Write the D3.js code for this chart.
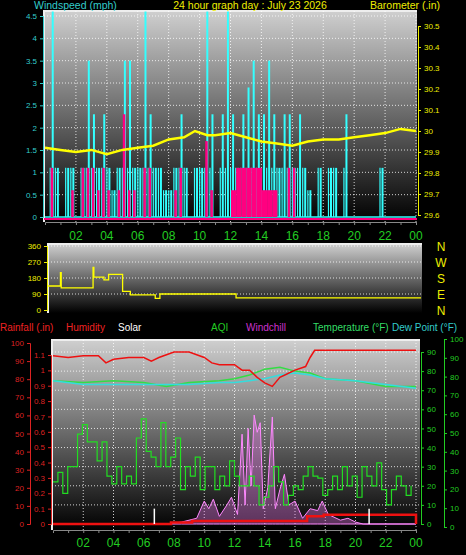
<!DOCTYPE html>
<html><head><meta charset="utf-8">
<script src="https://cdn.jsdelivr.net/npm/d3@7"></script>
<style>body{margin:0;background:#000}svg{display:block;font-family:"Liberation Sans",Arial,sans-serif}</style>
</head><body><svg id="c" width="466" height="555"></svg>
<script>
// wind, 20 minute steps (mph)
var gust = [0,4.6,1.1,0,1.1,1.1,0,1.1,3.5,2.3,1.1,2.3,1.1,0.6,1.1,3.5,3.5,1.1,1.1,4.6,2.3,1.1,1.1,0.6,0.6,1.1,2.3,1.1,0,1.1,1.1,4.6,2.3,0,2.3,4.6,2.3,1.1,2.3,2.9,3.5,2.3,2.3,3.5,2.3,1.1,2.3,2.3,1.1,2.3,1.1,0.6,0,1.1,0,1.1,1.1,0,2.3,0,0,0,0,0,0,1.1,0,0,0,0,0,0];
var avgWind = [0,1.1,0,0,0,0.6,0,1.1,1.1,1.1,0.6,1.1,0.6,0,0.6,2.3,0.6,0.6,0,1.1,1.1,0,0,0,0,0.6,1.1,0,0,0,0,1.7,0.6,0,0,0,0.6,1.1,1.1,1.1,1.1,1.1,0.6,0.6,0.6,0,0,1.1,1.1,0,0,0,0,0,0,0,0,0,0,0,0,0,0,0,0,0,0,0,0,0,0,0];
var baroHours = [0,1,2,3,4,5,6,7,8,9,9.7,10.5,11,12,13,14,15,16,17,18,19,20,21,22,23,24];
var baro = [29.92,29.91,29.90,29.91,29.89,29.91,29.92,29.93,29.96,29.97,30.0,29.98,29.98,29.99,29.97,29.95,29.94,29.93,29.95,29.96,29.96,29.97,29.98,29.99,30.01,30.0];
var dirHours = [0,0.8,0.85,2.9,2.95,3.6,3.9,4.8,5.3,6.9,7.2,12.1,24];
var dirDeg = [135,210,125,240,185,170,200,105,85,65,90,68,68];
var humHours = [0,1,2,3,3.5,4,5,6,6.5,7,8,9,10,10.5,11,12,12.5,13,13.5,14,14.5,15,15.5,16,16.7,17,17.3,24];
var hum = [93,92,93,93,89,91,92,92,90,92,95,95,92,89,88,88,85,85,81,78,76,81,83,85,87,92,96,96];
var tHours = [0,2,4,6,7.5,9,11,12,13,14,15,16,17,18,20,22,24];
var temp = [75,74,75,74,72,74,75,76,78,81,82,80,79,76,75,72,72];
var dew = [75,73,73,73,73,73,74,74,75,76,78,79,78,76,75,73,71];
var aqi = [22,27,16,30,30,47,52,43,43,33,43,25,21,30,21,25,21,45,55,38,35,30,53,30,35,45,18,30,25,35,18,30,30,18,25,20,33,25,20,20,25,20,10,14,20,30,22,10,15,20,18,25,30,25,24,15,18,25,18,30,20,25,14,30,25,20,32,18,10,18,25,20,15,20];
var solHours = [0,7.5,8.5,9.5,10,10.3,10.6,11,11.5,11.8,12.2,12.5,12.7,12.9,13.1,13.3,13.5,13.7,13.9,14.2,14.5,14.7,15,15.3,15.6,16,16.5,17,17.5,17.8,18.2,19,19.5,20,20.5,24];
var solar = [0,0,1,3,12,8,13,4,10,14,5,47,10,50,20,57,48,53,8,19,56,8,18,26,10,12,3,8,7,12,5,2,3,1,0,0];
var rainHours = [0,7.8,9.2,16.8,17.9,24];
var rain = [0,0.01,0.02,0.05,0.06,0];
var hourTicks = [2,4,6,8,10,12,14,16,18,20,22,24];
var fmtH = function(h){ return h==24 ? "00" : d3.format("02d")(h); };

var svg = d3.select("#c");
var defs = svg.append("defs");
var g = defs.append("linearGradient").attr("id","gr").attr("x1",0).attr("x2",0).attr("y1",0).attr("y2",1);
g.append("stop").attr("offset","0%").attr("stop-color","#cfcfcf");
g.append("stop").attr("offset","100%").attr("stop-color","#000");

function panel(x0,x1,y0,y1){
  svg.append("rect").attr("x",x0).attr("y",y0).attr("width",x1-x0).attr("height",y1-y0).attr("fill","url(#gr)");
  svg.append("path").attr("d","M"+x0+","+y1+"V"+y0+"H"+x1).attr("stroke","#eee").attr("stroke-width",2).attr("fill","none");
}
function grid(x,y,xt,yt,x0,x1,y0,y1){
  svg.append("g").selectAll("line").data(xt).join("line").attr("x1",x).attr("x2",x).attr("y1",y0).attr("y2",y1)
    .attr("stroke","#fff").attr("stroke-dasharray","1,2").attr("stroke-opacity",0.8);
  svg.append("g").selectAll("line").data(yt).join("line").attr("x1",x0).attr("x2",x1).attr("y1",y).attr("y2",y)
    .attr("stroke","#fff").attr("stroke-dasharray","1,2").attr("stroke-opacity",0.8);
}
function txt(x,y,s,c,anchor,size){
  svg.append("text").attr("x",x).attr("y",y).text(s).attr("fill",c).attr("font-size",size||11).attr("text-anchor",anchor||"start");
}
function yAxis(scale,x,ticks,color,orient,fmt){
  var ax = (orient=="left"?d3.axisLeft(scale):d3.axisRight(scale)).tickValues(ticks).tickSize(3).tickFormat(fmt||null);
  var a = svg.append("g").attr("transform","translate("+x+",0)").call(ax);
  a.selectAll("text").attr("fill",color).attr("font-size",8);
  a.selectAll("line,path").attr("stroke",color);
  return a;
}

// ---- panel 1: wind and barometer
var x1 = d3.scaleLinear().domain([0,24]).range([45,416]);
var yW = d3.scaleLinear().domain([0,4.5]).range([217,16]);
var yB = d3.scaleLinear().domain([29.6,30.5]).range([215,26]);
panel(44,417,11,222);
grid(x1,yW,hourTicks,d3.range(0.5,4.6,0.5),44,417,11,222);
var step = 24/gust.length;
svg.append("line").attr("x1",45).attr("x2",416).attr("y1",yW(0)).attr("y2",yW(0)).attr("stroke","#3ff").attr("stroke-width",1.5);
svg.append("g").selectAll("line").data(gust).join("line").attr("x1",function(d,i){return x1(i*step+step/2);}).attr("x2",function(d,i){return x1(i*step+step/2);})
  .attr("y1",function(d){return yW(d);}).attr("y2",yW(0)).attr("stroke","#3ff").attr("stroke-width",2);
svg.append("g").selectAll("line").data(gust).join("line").attr("x1",function(d,i){return x1(i*step+step/2)-2.5;}).attr("x2",function(d,i){return x1(i*step+step/2)-2.5;})
  .attr("y1",function(d){return yW(Math.min(d,1.1));}).attr("y2",yW(0)).attr("stroke","#3ff").attr("stroke-width",1.2);
svg.append("g").selectAll("rect").data(avgWind).join("rect").attr("x",function(d,i){return x1(i*step)+0.5;})
  .attr("width",function(d,i){return (i>=36&&i<=44)?x1(step)-x1(0):2.5;})
  .attr("y",function(d){return yW(d);}).attr("height",function(d){return yW(0)-yW(d);}).attr("fill","#ff0080");
svg.append("line").attr("x1",44).attr("x2",417).attr("y1",yW(0)+2).attr("y2",yW(0)+2).attr("stroke","#ff0080").attr("stroke-width",2);
svg.append("path").attr("d",d3.line().x(function(d,i){return x1(baroHours[i]);}).y(function(d){return yB(d);})(baro))
  .attr("fill","none").attr("stroke","#ff0").attr("stroke-width",2.5);
yAxis(yW,43,d3.range(0,4.6,0.5),"#3cc","left",d3.format("~g"));
yAxis(yB,418,d3.range(29.6,30.51,0.1),"#ee0","right",function(d){return d3.format("~g")(+d.toFixed(1));});
var xa = svg.append("g").attr("transform","translate(0,222)").call(d3.axisBottom(x1).tickValues(d3.range(1,25)).tickSize(3).tickFormat(""));
xa.selectAll("line,path").attr("stroke","#888");
svg.append("g").selectAll("text").data(hourTicks).join("text").attr("x",x1).attr("y",240).text(fmtH)
  .attr("fill","#2c2").attr("font-size",12).attr("text-anchor","middle");
txt(34,9,"Windspeed (mph)","#3cc","start",10.5);
txt(250,9,"24 hour graph day : July 23 2026","#ee0","middle",10.5);
txt(440,9,"Barometer (.in)","#ee0","end",10.5);

// ---- panel 2: wind direction
var x2 = d3.scaleLinear().domain([0,24]).range([48,421]);
var yD = d3.scaleLinear().domain([0,360]).range([310,246]);
panel(48,422,244,313);
grid(x2,yD,[],[90,180,270,360],48,422,244,313);
svg.append("path").attr("d",d3.line().curve(d3.curveStepAfter).x(function(d,i){return x2(dirHours[i]);}).y(function(d){return yD(d);})(dirDeg))
  .attr("fill","none").attr("stroke","#ff0").attr("stroke-width",1.3);
yAxis(yD,47,[0,90,180,270,360],"#ee0","left");
svg.append("g").selectAll("text").data(["N","W","S","E","N"]).join("text").attr("x",441).attr("y",function(d,i){return yD(360-i*90)+5;})
  .text(function(d){return d;}).attr("fill","#ee0").attr("font-size",12).attr("text-anchor","middle");

// legend
[["Rainfall (.in)",0,"#e22"],["Humidity",66,"#e22"],["Solar",118,"#fff"],["AQI",211,"#2c2"],["Windchill",246,"#c3c"],["Temperature (°F)",313,"#3d6"],["Dew Point (°F)",392,"#3cc"]]
  .forEach(function(l){ txt(l[1],331,l[0],l[2],"start",10); });

// ---- panel 3
var x3 = d3.scaleLinear().domain([0,24]).range([53,416]);
var yH = d3.scaleLinear().domain([0,100]).range([524,343]);
var yR = d3.scaleLinear().domain([0,1.1]).range([524,355]);
var yT = d3.scaleLinear().domain([0,90]).range([524,352]);
var yO = d3.scaleLinear().domain([0,100]).range([527,339]);
panel(52,420,340,530);
grid(x3,yT,hourTicks,d3.range(10,100,10),52,420,340,530);
svg.append("path").datum(solar).attr("d",d3.area().x(function(d,i){return x3(solHours[i]);}).y0(yT(0)).y1(function(d){return yT(d);}))
  .attr("fill","#f8f").attr("fill-opacity",0.35).attr("stroke","#f8f").attr("stroke-width",1);
svg.append("path").datum(aqi).attr("d",d3.line().curve(d3.curveStepAfter).x(function(d,i){return x3(i*24/aqi.length);}).y(function(d){return yT(d);}))
  .attr("fill","none").attr("stroke","#2d2").attr("stroke-width",1.2);
svg.append("path").datum(rain).attr("d",d3.line().curve(d3.curveStepAfter).x(function(d,i){return x3(rainHours[i]);}).y(function(d){return yR(d);}))
  .attr("fill","none").attr("stroke","#e11").attr("stroke-width",2.5);
svg.append("path").datum(temp).attr("d",d3.line().x(function(d,i){return x3(tHours[i]);}).y(function(d){return yT(d);})).attr("fill","none").attr("stroke","#3d4").attr("stroke-width",1.5);
svg.append("path").datum(dew).attr("d",d3.line().x(function(d,i){return x3(tHours[i]);}).y(function(d){return yT(d);})).attr("fill","none").attr("stroke","#3dd").attr("stroke-width",1.5);
svg.append("path").datum(hum).attr("d",d3.line().x(function(d,i){return x3(humHours[i]);}).y(function(d){return yH(d);})).attr("fill","none").attr("stroke","#e11").attr("stroke-width",1.5);
svg.append("g").selectAll("line").data([6.7,20.9]).join("line").attr("x1",x3).attr("x2",x3).attr("y1",yR(0)).attr("y2",yR(0.1)).attr("stroke","#fff").attr("stroke-width",1.5);
yAxis(yH,30,d3.range(0,101,10),"#d22","left");
yAxis(yR,51,d3.range(0,1.11,0.1),"#d22","left",function(d){return d3.format("~g")(+d.toFixed(1));});
yAxis(yT,421,d3.range(0,91,10),"#2c2","right");
yAxis(yO,444,d3.range(0,101,10),"#2c2","right");
var xb = svg.append("g").attr("transform","translate(0,530)").call(d3.axisBottom(x3).tickValues(d3.range(1,25)).tickSize(3).tickFormat(""));
xb.selectAll("line,path").attr("stroke","#888");
svg.append("g").selectAll("text").data(hourTicks).join("text").attr("x",x3).attr("y",547).text(fmtH)
  .attr("fill","#2c2").attr("font-size",12).attr("text-anchor","middle");
</script></body></html>
